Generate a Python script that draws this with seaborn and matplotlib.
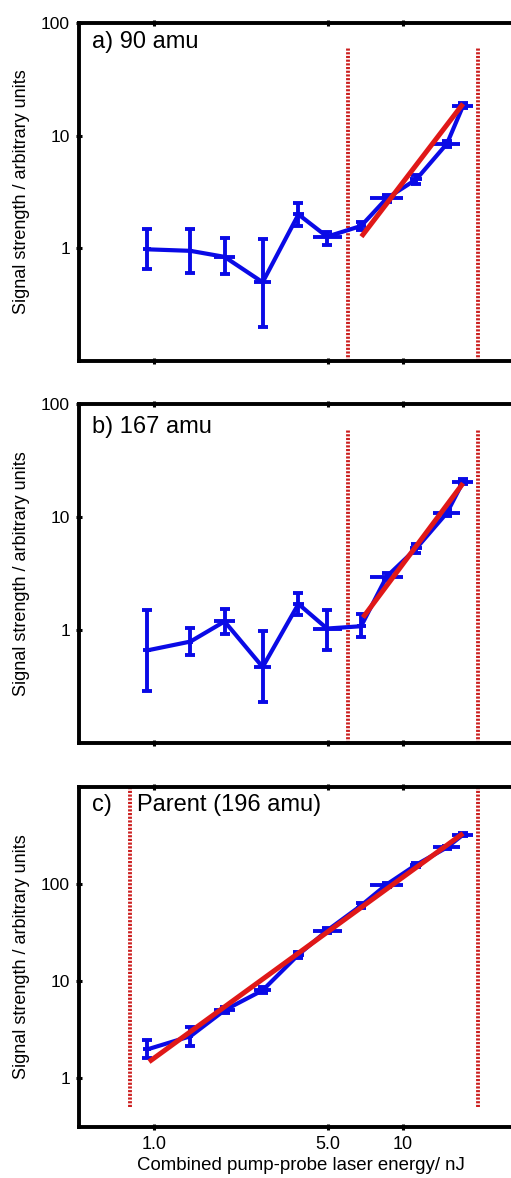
import numpy as np
import pandas as pd
import matplotlib
matplotlib.use("Agg")
import matplotlib.pyplot as plt
import seaborn as sns

# ---- data ----
energy = [0.94, 1.40, 1.92, 2.73, 3.80, 4.95, 6.78, 8.58, 11.3, 15.0, 17.4]
energy_lo = [0.905, 1.37, 1.74, 2.51, 3.60, 4.34, 6.50, 7.36, 10.7, 13.2, 15.7]
energy_hi = [0.975, 1.43, 2.12, 2.94, 4.00, 5.66, 7.10, 10.0, 11.9, 16.9, 19.1]

sig_a = [0.98, 0.95, 0.84, 0.50, 2.00, 1.27, 1.58, 2.77, 4.1, 8.5, 18.4]
sig_a_lo = [0.66, 0.60, 0.59, 0.20, 1.58, 1.08, 1.45, 2.60, 3.7, 8.0, 17.5]
sig_a_hi = [1.47, 1.47, 1.24, 1.22, 2.53, 1.39, 1.72, 2.95, 4.5, 9.0, 19.3]

sig_b = [0.66, 0.79, 1.19, 0.47, 1.70, 1.03, 1.08, 2.96, 5.28, 10.9, 20.5]
sig_b_lo = [0.29, 0.60, 0.93, 0.23, 1.36, 0.67, 0.87, 2.75, 4.85, 10.2, 19.6]
sig_b_hi = [1.50, 1.05, 1.52, 0.97, 2.11, 1.50, 1.39, 3.20, 5.80, 11.6, 21.5]

sig_c = [1.96, 2.68, 4.97, 7.98, 18.6, 33, 59.8, 98.5, 158, 238, 322]
sig_c_lo = [1.58, 2.12, 4.6, 7.4, 17, 31, 56, 94, 150, 228, 310]
sig_c_hi = [2.44, 3.35, 5.4, 8.6, 20, 35, 64, 103, 166, 248, 334]

fit_a_x, fit_a_y = [6.8, 17.4], [1.27, 19.2]
fit_b_x, fit_b_y = [6.9, 17.4], [1.29, 19.9]
fit_c_x, fit_c_y = [0.955, 17.4], [1.46, 332]

bounds_ab = [6.0, 20.0]
bounds_c = [0.8, 20.0]

titles = ["a) 90 amu", "b) 167 amu", None]
ylabel = "Signal strength / arbitrary units"
xlabel = "Combined pump-probe laser energy/ nJ"
xticks = [1.0, 5.0, 10.0]
xticklabels = ["1.0", "5.0", "10"]

# ---- style ----
sns.set_style("white")
plt.rcParams['font.family'] = ['Liberation Sans', 'DejaVu Sans']
plt.rcParams.update({"text.color": "black", "axes.labelcolor": "black",
                     "xtick.color": "black", "ytick.color": "black"})

BLUE = "#0a0ae6"
RED = "#e01818"
DRED = "#cc1f1f"

fig = plt.figure(figsize=(5.11, 11.78), dpi=100)
W = (522 - 79) / 511
L = 79 / 511
ax_a = fig.add_axes([L, 1 - 361 / 1178, W, 338 / 1178])
ax_b = fig.add_axes([L, 1 - 743 / 1178, W, 339 / 1178])
ax_c = fig.add_axes([L, 1 - 1127 / 1178, W, 340 / 1178])

panels = [
    (ax_a, sig_a, sig_a_lo, sig_a_hi, fit_a_x, fit_a_y, bounds_ab, (0.1, 100), (0.1, 60), 0.944),
    (ax_b, sig_b, sig_b_lo, sig_b_hi, fit_b_x, fit_b_y, bounds_ab, (0.1, 100), (0.1, 60), 0.932),
    (ax_c, sig_c, sig_c_lo, sig_c_hi, fit_c_x, fit_c_y, bounds_c, (0.31, 1000), (0.5, 1000), 0.947),
]
yt = [1, 10, 100]
ytl = ["1", "10", "100"]

x = np.array(energy)
for i, (ax, y, ylo, yhi, fx, fy, bnd, ylim, vspan, ty) in enumerate(panels):
    y = np.array(y)
    df = pd.DataFrame({"energy": x, "signal": y})
    ax.set_xscale("log")
    ax.set_yscale("log")
    for b in bnd:
        ax.plot([b, b], vspan, color=DRED, lw=2.8, ls=(0, (0.55, 0.4)), zorder=2)
    ax.errorbar(x, y, yerr=[y - np.array(ylo), np.array(yhi) - y], fmt="none",
                ecolor=BLUE, elinewidth=2.8, capsize=3.5, capthick=2.8, zorder=3)
    ax.errorbar(x, y, xerr=[x - np.array(energy_lo), np.array(energy_hi) - x], fmt="none",
                ecolor=BLUE, elinewidth=2.8, capsize=0, zorder=3)
    sns.lineplot(data=df, x="energy", y="signal", ax=ax, color=BLUE, lw=3.0,
                 sort=False, estimator=None, zorder=4)
    ax.plot(fx, fy, color=RED, lw=3.6, solid_capstyle="butt", zorder=5)

    ax.set_xlim(0.5, 30)
    ax.set_ylim(*ylim)
    ax.xaxis.set_minor_locator(matplotlib.ticker.NullLocator())
    ax.yaxis.set_minor_locator(matplotlib.ticker.NullLocator())
    ax.set_xticks(xticks)
    ax.set_yticks(yt)
    ax.set_yticklabels(ytl, fontsize=12.5, color="black")
    if i < 2:
        ax.set_xticklabels([])
        ax.set_xlabel("")
    else:
        ax.set_xticklabels(xticklabels, fontsize=13, color="black")
        ax.set_xlabel(xlabel, fontsize=13.4, labelpad=3, color="black")
    ax.set_ylabel(ylabel, fontsize=13, labelpad=8, color="black")
    ax.tick_params(axis="both", which="major", direction="inout", length=5, width=2.2,
                   top=True, bottom=True, left=True, right=False, pad=4, colors="black")
    for s in ["top", "bottom", "left", "right"]:
        ax.spines[s].set_visible(True)
        ax.spines[s].set_color("black")
        ax.spines[s].set_linewidth(2.8)

    if titles[i] is not None:
        ax.text(0.029, ty, titles[i], transform=ax.transAxes, fontsize=17,
                ha="left", va="center", color="black")
    else:
        ax.text(0.029, ty, "c)", transform=ax.transAxes, fontsize=17, ha="left",
                va="center", color="black")
        ax.text(0.131, ty, "Parent (196 amu)", transform=ax.transAxes, fontsize=17,
                ha="left", va="center", color="black")
    if ax.get_legend() is not None:
        ax.get_legend().remove()

fig.savefig("out.png", dpi=100)
